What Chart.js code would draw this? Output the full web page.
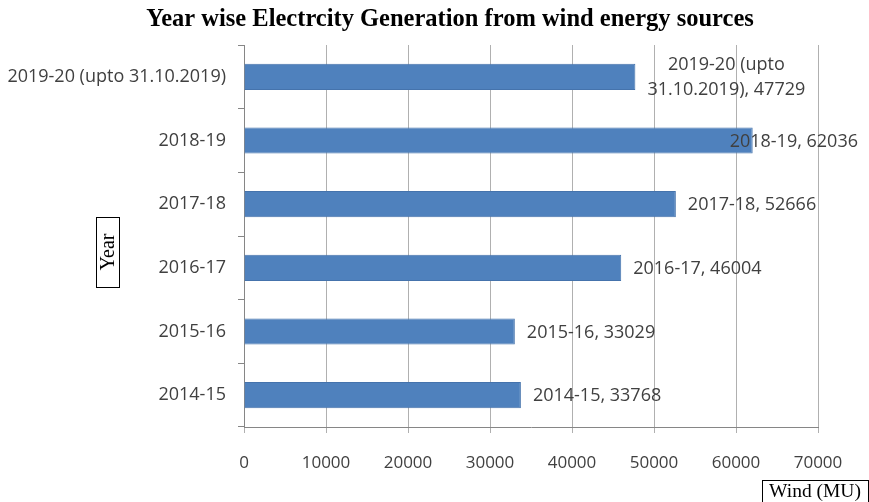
<!DOCTYPE html>
<html>
<head>
<meta charset="utf-8">
<title>Wind energy generation</title>
<script src="https://cdn.jsdelivr.net/npm/chart.js@4"></script>
<style>
  html,body{margin:0;padding:0;background:#fff}
  #wrap{width:869px;height:502px}
</style>
</head>
<body>
<div id="wrap"><canvas id="chart" width="869" height="502"></canvas></div>
<script>
// data, oldest year first (drawn bottom to top)
const years = ['2014-15', '2015-16', '2016-17', '2017-18', '2018-19', '2019-20 (upto 31.10.2019)'];
const windMU = [33768, 33029, 46004, 52666, 62036, 47729];
const xTicks = [0, 10000, 20000, 30000, 40000, 50000, 60000, 70000];

const chartTitle = 'Year wise Electrcity Generation from wind energy sources';
const yTitle = 'Year';
const xTitle = 'Wind (MU)';

const TEXT = '#404040';
const AXIS = '#868686';
const GRID = '#b0b0b0';

// word wrap helper for the long data label
function wrap(ctx, text, maxW){
  const words = text.split(' ');
  const lines = [];
  let cur = '';
  for(const w of words){
    const test = cur ? cur + ' ' + w : w;
    if(cur && ctx.measureText(test).width > maxW){ lines.push(cur); cur = w; }
    else cur = test;
  }
  if(cur) lines.push(cur);
  return lines;
}

const decor = {
  id: 'decor',
  afterDatasetsDraw(chart){
    const ctx = chart.ctx;
    const meta = chart.getDatasetMeta(0);
    ctx.save();
    ctx.font = '18px "Open Sans", sans-serif';
    ctx.fillStyle = TEXT;
    ctx.textBaseline = 'middle';
    meta.data.forEach((bar, i) => {
      const lines = wrap(ctx, years[i] + ', ' + windMU[i], 175);
      const w = Math.max(...lines.map(l => ctx.measureText(l).width));
      const left = Math.min(bar.x + 12, chart.width - 11 - w);
      const lh = 25;
      ctx.textAlign = 'center';
      lines.forEach((l, k) => {
        const y = bar.y + 1 + (k - (lines.length - 1) / 2) * lh;
        ctx.fillText(l, left + w / 2, y);
      });
    });
    ctx.restore();
  },
  afterDraw(chart){
    const ctx = chart.ctx;
    ctx.save();
    // main title
    ctx.fillStyle = '#000';
    ctx.font = 'bold 24.5px "Liberation Serif", serif';
    ctx.textAlign = 'center';
    ctx.textBaseline = 'alphabetic';
    ctx.fillText(chartTitle, 450, 26);

    // boxed y axis title
    ctx.strokeStyle = '#000';
    ctx.lineWidth = 1;
    ctx.strokeRect(96.5, 217.5, 23, 70);
    ctx.font = '20px "Liberation Serif", serif';
    ctx.textBaseline = 'middle';
    ctx.translate(108, 252);
    ctx.rotate(-Math.PI / 2);
    ctx.fillText(yTitle, 0, 1);
    ctx.restore();

    // boxed x axis title
    ctx.save();
    ctx.strokeStyle = '#000';
    ctx.strokeRect(762.5, 480.5, 106, 24);
    ctx.fillStyle = '#000';
    ctx.font = '19.5px "Liberation Serif", serif';
    ctx.textAlign = 'center';
    ctx.textBaseline = 'middle';
    ctx.fillText(xTitle, 815, 492);
    ctx.restore();
  }
};

new Chart(document.getElementById('chart'), {
  type: 'bar',
  data: {
    labels: years,
    datasets: [{
      data: windMU,
      backgroundColor: '#4f81bd',
      borderColor: '#4573ac',
      borderWidth: 1,
      barPercentage: 0.41,
      categoryPercentage: 1
    }]
  },
  options: {
    indexAxis: 'y',
    responsive: false,
    animation: false,
    devicePixelRatio: 1,
    layout: { padding: { top: 45, right: 51, bottom: 0, left: 0 } },
    plugins: { legend: { display: false }, tooltip: { enabled: false }, title: { display: false } },
    scales: {
      x: {
        min: 0, max: 70000,
        afterBuildTicks: s => { s.ticks = xTicks.map(v => ({ value: v })); },
        afterFit: s => { s.height = 75; },
        ticks: {
          color: TEXT,
          font: { family: '"Open Sans", sans-serif', size: 17 },
          padding: 20,
          maxRotation: 0,
          callback: v => String(v)
        },
        grid: { color: GRID, tickLength: 6, tickColor: GRID },
        border: { color: AXIS }
      },
      y: {
        reverse: true,
        afterFit: s => { s.width = 244; },
        ticks: {
          color: TEXT,
          font: { family: '"Open Sans", sans-serif', size: 18 },
          padding: 12
        },
        grid: { drawOnChartArea: false, offset: true, tickLength: 6, color: AXIS },
        border: { color: AXIS }
      }
    }
  },
  plugins: [decor]
});
</script>
</body>
</html>
